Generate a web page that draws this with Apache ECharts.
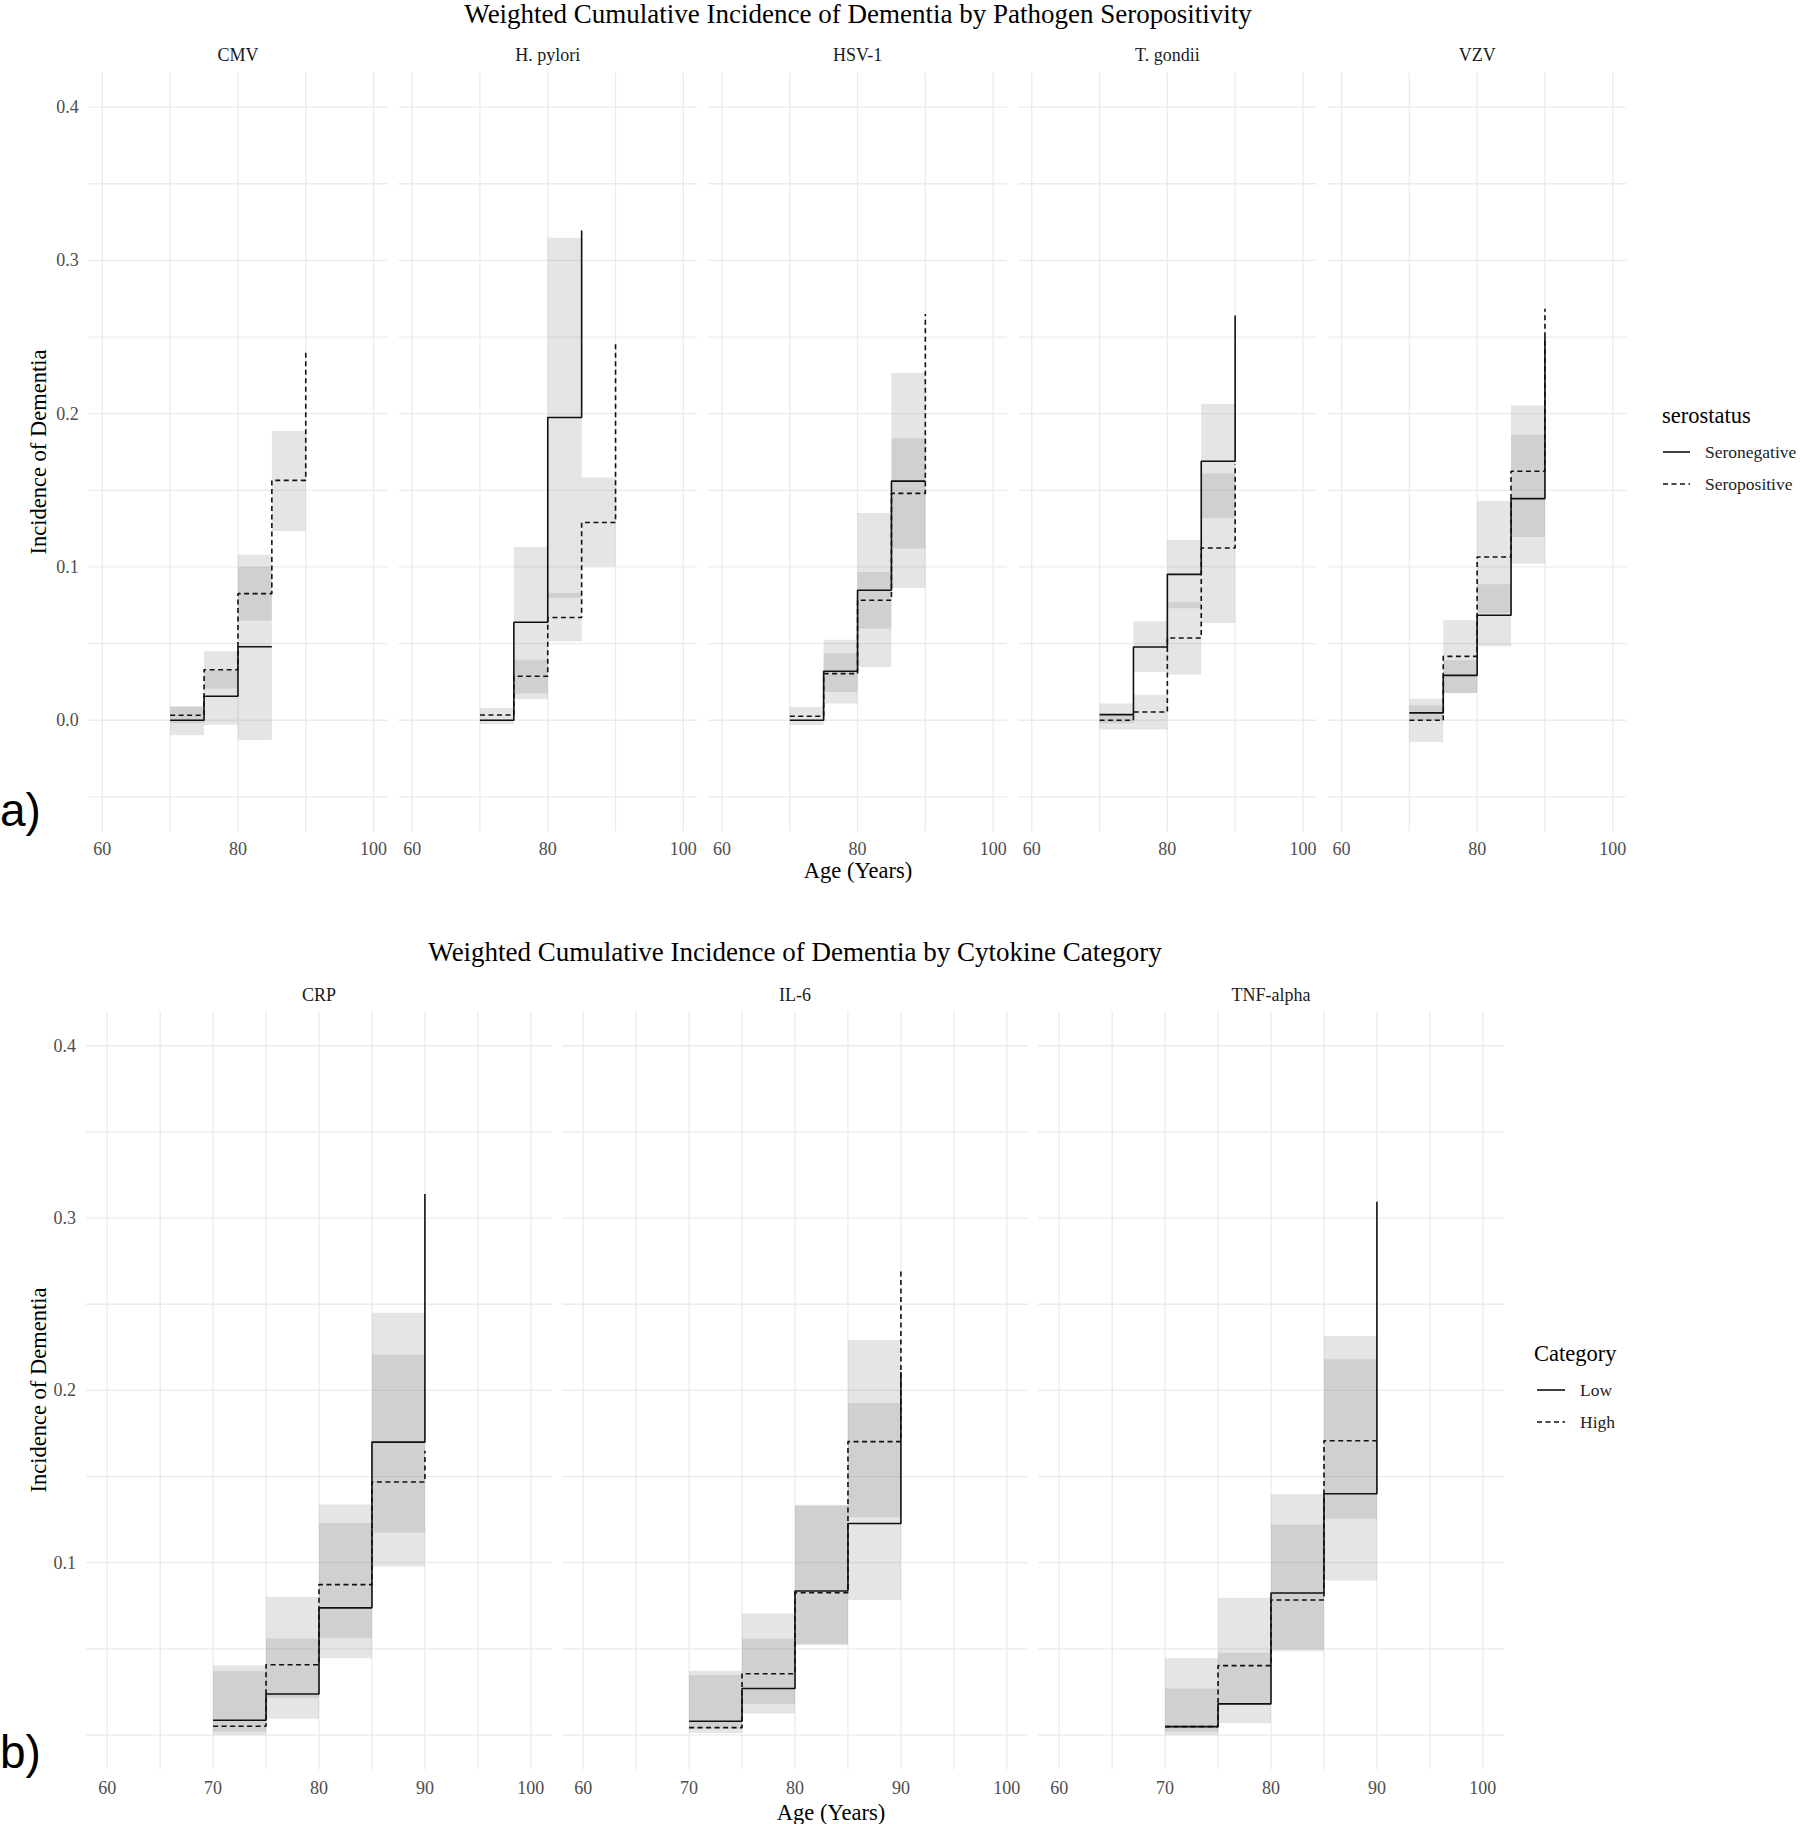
<!DOCTYPE html>
<html>
<head>
<meta charset="utf-8">
<script src="https://cdn.jsdelivr.net/npm/echarts@6/dist/echarts.min.js"></script>
<style>
html,body{margin:0;padding:0;background:#fff;}
#chart{width:1800px;height:1824px;}
</style>
</head>
<body>
<div id="chart"></div>
<script>
// ---------------- DATA ----------------
const ages = [70, 75, 80, 85, 90];           // step positions (years)
const ciStarts = [70, 75, 80, 85];           // interval starts for CI rectangles
const ciWidth = 5;

// Panel a) pathogen serostatus
const topTitle = 'Weighted Cumulative Incidence of Dementia by Pathogen Seropositivity';
const topPanelNames = ['CMV', 'H. pylori', 'HSV-1', 'T. gondii', 'VZV'];
const topGroups = ['Seronegative', 'Seropositive'];
const topLegendTitle = 'serostatus';

const cmvNeg   = [0.000, 0.0157, 0.048, 0.048];
const cmvNegLo = [-0.0098, -0.003, -0.013];
const cmvNegHi = [0.009, 0.0326, 0.100];
const cmvPos   = [0.0033, 0.033, 0.0826, 0.1565, 0.240];
const cmvPosLo = [-0.002, 0.0207, 0.065, 0.1235];
const cmvPosHi = [0.009, 0.045, 0.108, 0.1887];

const hpyNeg   = [0.000, 0.0639, 0.1975, 0.3195];
const hpyNegLo = [0.000, 0.0137, 0.080];
const hpyNegHi = [0.000, 0.113, 0.3147];
const hpyPos   = [0.0034, 0.0287, 0.067, 0.129, 0.2464];
const hpyPosLo = [-0.0024, 0.0174, 0.0516, 0.1005];
const hpyPosHi = [0.0082, 0.0395, 0.083, 0.1584];

const hsvNeg   = [0.000, 0.032, 0.0848, 0.156, 0.156];
const hsvNegLo = [0.000, 0.0185, 0.0598, 0.112];
const hsvNegHi = [0.000, 0.0526, 0.1352, 0.2265];
const hsvPos   = [0.0026, 0.0304, 0.0783, 0.148, 0.265];
const hsvPosLo = [-0.0033, 0.0109, 0.0348, 0.0863];
const hsvPosHi = [0.0087, 0.0435, 0.0967, 0.184];

const tgoNeg   = [0.0037, 0.0478, 0.0952, 0.169, 0.264];
const tgoNegLo = [-0.002, 0.0315, 0.073, 0.132];
const tgoNegHi = [0.0109, 0.0646, 0.1178, 0.2065];
const tgoPos   = [0.000, 0.0054, 0.0537, 0.1124, 0.167];
const tgoPosLo = [-0.006, -0.006, 0.0298, 0.0635];
const tgoPosHi = [0.0043, 0.0167, 0.077, 0.161];

const vzvNeg   = [0.0048, 0.0293, 0.0685, 0.1446, 0.250];
const vzvNegLo = [0.000, 0.0178, 0.0483, 0.1022];
const vzvNegHi = [0.0098, 0.0391, 0.0887, 0.1863];
const vzvPos   = [0.000, 0.0417, 0.1065, 0.1624, 0.2685];
const vzvPosLo = [-0.0141, 0.0178, 0.070, 0.1196];
const vzvPosHi = [0.0141, 0.0652, 0.143, 0.2054];

// Panel b) cytokine category
const botTitle = 'Weighted Cumulative Incidence of Dementia by Cytokine Category';
const botPanelNames = ['CRP', 'IL-6', 'TNF-alpha'];
const botGroups = ['Low', 'High'];
const botLegendTitle = 'Category';

const crpLow    = [0.0086, 0.0238, 0.0738, 0.170, 0.314];
const crpLowLo  = [0.002, 0.0095, 0.0446, 0.1176];
const crpLowHi  = [0.0403, 0.056, 0.123, 0.2451];
const crpHigh   = [0.0051, 0.0408, 0.0873, 0.1468, 0.165];
const crpHighLo = [0.000, 0.0216, 0.0562, 0.0978];
const crpHighHi = [0.037, 0.0803, 0.1338, 0.2208];

const il6Low    = [0.008, 0.027, 0.0836, 0.1228, 0.2107];
const il6LowLo  = [0.0036, 0.0125, 0.0523, 0.0783];
const il6LowHi  = [0.0373, 0.0559, 0.1337, 0.1927];
const il6High   = [0.0043, 0.0356, 0.0826, 0.1703, 0.2697];
const il6HighLo = [0.0012, 0.018, 0.0528, 0.1264];
const il6HighHi = [0.0349, 0.0706, 0.133, 0.2293];

const tnfLow    = [0.0049, 0.0181, 0.0824, 0.140, 0.3095];
const tnfLowLo  = [0.000, 0.0068, 0.0486, 0.0897];
const tnfLowHi  = [0.027, 0.0478, 0.1222, 0.2181];
const tnfHigh   = [0.0049, 0.0403, 0.0784, 0.1708, 0.1708];
const tnfHighLo = [0.0019, 0.0176, 0.050, 0.1257];
const tnfHighHi = [0.0446, 0.0797, 0.1397, 0.2316];

// Axis ticks / grid
const xLimits = [58, 102];
const topYLimits = [-0.0725, 0.4225];
const botYLimits = [-0.02, 0.42];
const topXTicks = [60, 80, 100];
const topXGrid  = [60, 70, 80, 90, 100];
const topYTicks = [0, 0.1, 0.2, 0.3, 0.4];
const topYGrid  = [-0.05, 0, 0.05, 0.1, 0.15, 0.2, 0.25, 0.3, 0.35, 0.4];
const botXTicks = [60, 70, 80, 90, 100];
const botXGrid  = [60, 65, 70, 75, 80, 85, 90, 95, 100];
const botYTicks = [0.1, 0.2, 0.3, 0.4];
const botYGrid  = [0, 0.05, 0.1, 0.15, 0.2, 0.25, 0.3, 0.35, 0.4];
const xTitle = 'Age (Years)';
const yTitle = 'Incidence of Dementia';

// ---------------- BUILD ----------------
const SERIF = '"Liberation Serif", "Times New Roman", serif';
const SANS = '"Liberation Sans", Arial, sans-serif';
const GRID_COLOR = '#ebebeb';
const CI_FILL = 'rgba(127,127,127,0.2)';
const LINE_COLOR = '#111';
const DASH = [5, 3.5];

const topPanels = [
  [cmvNeg, cmvNegLo, cmvNegHi, cmvPos, cmvPosLo, cmvPosHi],
  [hpyNeg, hpyNegLo, hpyNegHi, hpyPos, hpyPosLo, hpyPosHi],
  [hsvNeg, hsvNegLo, hsvNegHi, hsvPos, hsvPosLo, hsvPosHi],
  [tgoNeg, tgoNegLo, tgoNegHi, tgoPos, tgoPosLo, tgoPosHi],
  [vzvNeg, vzvNegLo, vzvNegHi, vzvPos, vzvPosLo, vzvPosHi]
];
const botPanels = [
  [crpLow, crpLowLo, crpLowHi, crpHigh, crpHighLo, crpHighHi],
  [il6Low, il6LowLo, il6LowHi, il6High, il6HighLo, il6HighHi],
  [tnfLow, tnfLowLo, tnfLowHi, tnfHigh, tnfHighLo, tnfHighHi]
];

// layout (pixels)
const TOP = {left0: 88.8, step: 309.8, width: 298.3, top: 72.6, height: 758.8};
const BOT = {left0: 86, step: 476, width: 466, top: 1011.3, height: 758.2};

const grids = [], xAxes = [], yAxes = [], series = [], graphics = [];

function hLineItem(params, api) {
  const y = api.coord([80, api.value(1)])[1];
  const cs = params.coordSys;
  return {type: 'line', shape: {x1: cs.x, y1: y, x2: cs.x + cs.width, y2: y},
          style: {stroke: GRID_COLOR, lineWidth: 1.3}, silent: true};
}
function vLineItem(params, api) {
  const x = api.coord([api.value(0), 0.1])[0];
  const cs = params.coordSys;
  return {type: 'line', shape: {x1: x, y1: cs.y, x2: x, y2: cs.y + cs.height},
          style: {stroke: GRID_COLOR, lineWidth: 1.3}, silent: true};
}
function rectItem(params, api) {
  const p0 = api.coord([api.value(0), api.value(3)]);
  const p1 = api.coord([api.value(1), api.value(2)]);
  return {type: 'rect', shape: {x: p0[0], y: p0[1], width: p1[0] - p0[0], height: p1[1] - p0[1]},
          style: {fill: CI_FILL}, silent: true};
}

function addPanel(idx, geo, name, arrs, groups, yLim, xTicks, xGrid, yTicks, yGrid, showY) {
  const left = geo.left0 + idx.local * geo.step;
  const g = grids.length;
  grids.push({left: left, top: geo.top, width: geo.width, height: geo.height,
              containLabel: false, outerBoundsMode: 'none', show: false});
  xAxes.push({type: 'value', gridIndex: g, min: xLimits[0], max: xLimits[1],
    axisLine: {show: false}, axisTick: {show: false}, splitLine: {show: false},
    axisLabel: {customValues: xTicks, margin: 9, color: '#4d4d4d', fontFamily: SERIF, fontSize: 18,
                showMinLabel: true, showMaxLabel: true, formatter: v => String(Math.round(v))}});
  yAxes.push({type: 'value', gridIndex: g, min: yLim[0], max: yLim[1],
    axisLine: {show: false}, axisTick: {show: false}, splitLine: {show: false},
    axisLabel: {show: showY, customValues: yTicks, margin: 10, color: '#4d4d4d', fontFamily: SERIF, fontSize: 18,
                showMinLabel: true, showMaxLabel: true, formatter: v => v.toFixed(1)}});
  series.push({type: 'custom', xAxisIndex: g, yAxisIndex: g, z: 0, silent: true, animation: false,
    renderItem: hLineItem, data: yGrid.map(v => [80, v]), clip: false});
  series.push({type: 'custom', xAxisIndex: g, yAxisIndex: g, z: 0, silent: true, animation: false,
    renderItem: vLineItem, data: xGrid.map(v => [v, 0.1]), clip: false});
  const [aV, aLo, aHi, bV, bLo, bHi] = arrs;
  [[aLo, aHi], [bLo, bHi]].forEach(([lo, hi]) => {
    series.push({type: 'custom', xAxisIndex: g, yAxisIndex: g, z: 1, silent: true, animation: false,
      renderItem: rectItem, encode: {x: [0, 1], y: [2, 3]},
      data: lo.map((l, i) => [ciStarts[i], ciStarts[i] + ciWidth, l, hi[i]])});
  });
  [[aV, groups[0], 'solid'], [bV, groups[1], DASH]].forEach(([vals, nm, tp]) => {
    series.push({type: 'line', name: nm, xAxisIndex: g, yAxisIndex: g, z: 3, step: 'end',
      symbol: 'none', showSymbol: false, animation: false, silent: true,
      lineStyle: {color: LINE_COLOR, width: 1.6, type: tp},
      itemStyle: {color: LINE_COLOR},
      data: vals.map((v, i) => [ages[i], v])});
  });
  graphics.push({type: 'text', x: left + geo.width / 2, y: idx.stripY, silent: true,
    style: {text: name, fill: '#1a1a1a', font: '18px ' + SERIF, textAlign: 'center', textVerticalAlign: 'middle'}});
}

topPanels.forEach((arrs, i) => addPanel({local: i, stripY: 55}, TOP, topPanelNames[i], arrs, topGroups,
  topYLimits, topXTicks, topXGrid, topYTicks, topYGrid, i === 0));
botPanels.forEach((arrs, i) => addPanel({local: i, stripY: 995}, BOT, botPanelNames[i], arrs, botGroups,
  botYLimits, botXTicks, botXGrid, botYTicks, botYGrid, i === 0));

function txt(text, x, y, font, opts) {
  opts = opts || {};
  graphics.push({type: 'text', x: x, y: y, rotation: opts.rot || 0, silent: true,
    style: {text: text, fill: opts.fill || '#000', font: font,
            textAlign: opts.align || 'center', textVerticalAlign: 'middle'}});
}
function keyLine(x1, x2, y, dash) {
  graphics.push({type: 'line', silent: true, shape: {x1: x1, y1: y, x2: x2, y2: y},
    style: {stroke: LINE_COLOR, lineWidth: 1.6, lineDash: dash || null}});
}
txt(topTitle, 858, 14, '27px ' + SERIF);
txt(botTitle, 795, 952, '27px ' + SERIF);
txt(xTitle, 858, 870, '22.5px ' + SERIF);
txt(xTitle, 831, 1812, '22.5px ' + SERIF);
txt(yTitle, 38, 452, '22.5px ' + SERIF, {rot: Math.PI / 2});
txt(yTitle, 38, 1390, '22.5px ' + SERIF, {rot: Math.PI / 2});
txt('a)', 0, 810, '46px ' + SANS, {align: 'left'});
txt('b)', 0, 1752, '46px ' + SANS, {align: 'left'});

// legends
txt(topLegendTitle, 1662, 415, '22.5px ' + SERIF, {align: 'left'});
keyLine(1663, 1690, 452, null);
keyLine(1663, 1690, 484, DASH);
txt(topGroups[0], 1705, 452, '17.5px ' + SERIF, {align: 'left', fill: '#222'});
txt(topGroups[1], 1705, 484, '17.5px ' + SERIF, {align: 'left', fill: '#222'});

txt(botLegendTitle, 1534, 1353, '22.5px ' + SERIF, {align: 'left'});
keyLine(1537, 1565, 1390, null);
keyLine(1537, 1565, 1422, DASH);
txt(botGroups[0], 1580, 1390, '17.5px ' + SERIF, {align: 'left', fill: '#222'});
txt(botGroups[1], 1580, 1422, '17.5px ' + SERIF, {align: 'left', fill: '#222'});

const chart = echarts.init(document.getElementById('chart'), null, {renderer: 'svg', width: 1800, height: 1824});
chart.setOption({
  backgroundColor: '#fff',
  animation: false,
  grid: grids,
  xAxis: xAxes,
  yAxis: yAxes,
  series: series,
  graphic: graphics
});
</script>
</body>
</html>
